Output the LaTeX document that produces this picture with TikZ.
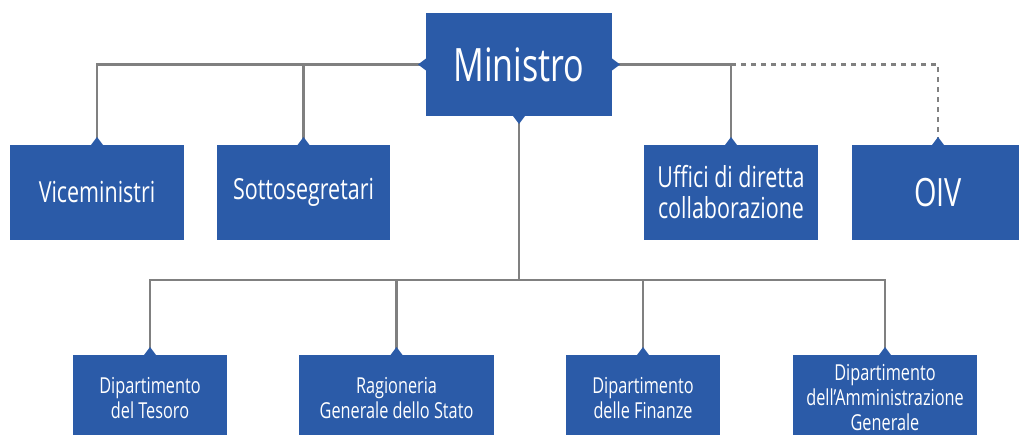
\documentclass[tikz,border=0pt]{standalone}
\usepackage{fontspec}
\setmainfont{Open Sans}[FakeStretch=0.74]
\definecolor{boxblue}{RGB}{43,91,168}
\definecolor{linegray}{RGB}{128,128,128}
\newcommand{\tipup}[1]{\fill[boxblue] ([xshift=-6pt]#1) -- ([xshift=6pt]#1) -- ([yshift=8pt]#1) -- cycle;}
\newcommand{\tipdown}[1]{\fill[boxblue] ([xshift=-6pt]#1) -- ([xshift=6pt]#1) -- ([yshift=-8pt]#1) -- cycle;}
\newcommand{\tipleft}[1]{\fill[boxblue] ([yshift=-6pt]#1) -- ([yshift=6pt]#1) -- ([xshift=-8pt]#1) -- cycle;}
\newcommand{\tipright}[1]{\fill[boxblue] ([yshift=-6pt]#1) -- ([yshift=6pt]#1) -- ([xshift=8pt]#1) -- cycle;}
\begin{document}
\begin{tikzpicture}[x=1pt, y=-1pt,
	every node/.style={fill=boxblue, text=white, inner sep=0pt, outer sep=0pt, align=center},
	office/.style={minimum height=95pt, font=\fontsize{29}{31}\selectfont},
	dept/.style={minimum height=86pt, font=\fontsize{22}{25}\selectfont},
	link/.style={draw=linegray, line width=2.6pt},
	staff/.style={draw=linegray, line width=2.6pt, dash pattern=on 5pt off 5pt}]
	\useasboundingbox (0,0) rectangle (1019,435);
	% Ministro
	\node[minimum width=186pt, minimum height=103pt, font=\fontsize{46}{50}\selectfont] (mini) at (519,64.5) {Ministro};
	
	% Uffici politici
	\node[office, minimum width=174pt] (vice) at (97,192.5) {Viceministri};
	\node[office, minimum width=173pt] (sotto) at (303.5,192.5) {Sottosegretari};
	\node[office, minimum width=174pt] (uffici) at (731,192.5) {Uffici di diretta\\collaborazione};
	\node[office, minimum width=172pt, font=\fontsize{39}{42}\selectfont] (oiv) at (938,192.5) {OIV};
	
	% Dipartimenti
	\node[dept, minimum width=154pt] (tesoro) at (150,398) {Dipartimento\\del Tesoro};
	\node[dept, minimum width=195pt] (rgs) at (396.5,398) {Ragioneria\\Generale dello Stato};
	\node[dept, minimum width=154pt] (finanze) at (643,398) {Dipartimento\\delle Finanze};
	\node[dept, minimum width=184pt] (dag) at (885,398) {Dipartimento\\dell’Amministrazione\\Generale};
	
	% collegamenti
	\draw[link] (mini.west) -| (vice.north);
	\draw[link] (mini.west) -| (sotto.north);
	\draw[link] (mini.east) -| (uffici.north);
	\draw[staff] (uffici.north |- mini.east) -| (oiv.north);
	\coordinate (bus) at (519,280);
	\draw[link] (mini.south) -- (bus);
	\draw[link] (bus) -| (tesoro.north);
	\draw[link] (bus) -| (rgs.north);
	\draw[link] (bus) -| (finanze.north);
	\draw[link] (bus) -| (dag.north);
	
	% punte
	\tipleft{mini.west} \tipright{mini.east} \tipdown{mini.south}
	\tipup{vice.north} \tipup{sotto.north} \tipup{uffici.north} \tipup{oiv.north}
	\tipup{tesoro.north} \tipup{rgs.north} \tipup{finanze.north} \tipup{dag.north}
\end{tikzpicture}
\end{document}
